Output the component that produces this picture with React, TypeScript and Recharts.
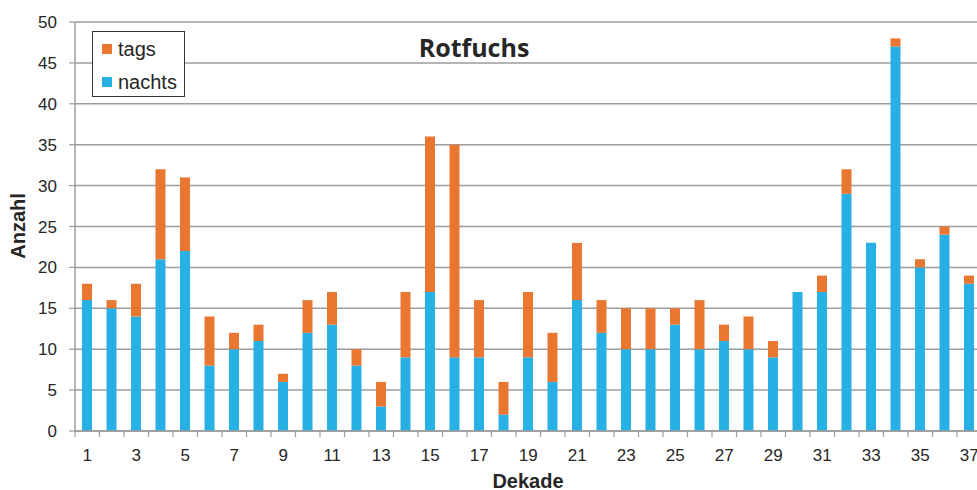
import React from "react";
import { BarChart, Bar, XAxis, YAxis, CartesianGrid } from "recharts";

// Dekaden 1–37 und Zählungen je Dekade
const dekaden: number[] = [
  1, 2, 3, 4, 5, 6, 7, 8, 9, 10, 11, 12, 13, 14, 15, 16, 17, 18, 19, 20,
  21, 22, 23, 24, 25, 26, 27, 28, 29, 30, 31, 32, 33, 34, 35, 36, 37,
];

const nachts: number[] = [
  16, 15, 14, 21, 22, 8, 10, 11, 6, 12, 13, 8, 3, 9, 17, 9, 9, 2, 9, 6,
  16, 12, 10, 10, 13, 10, 11, 10, 9, 17, 17, 29, 23, 47, 20, 24, 18,
];

const tags: number[] = [
  2, 1, 4, 11, 9, 6, 2, 2, 1, 4, 4, 2, 3, 8, 19, 26, 7, 4, 8, 6,
  7, 4, 5, 5, 2, 6, 2, 4, 2, 0, 2, 3, 0, 1, 1, 1, 1,
];

const yTicks: number[] = [0, 5, 10, 15, 20, 25, 30, 35, 40, 45, 50];

const data = dekaden.map((d, i) => ({
  dekade: d,
  nachts: nachts[i],
  tags: tags[i],
}));

const BLUE = "#26B0E4";
const ORANGE = "#E97631";
const GRID = "#9c9c9c";
const TEXT = "#262626";
const FONT = "'Liberation Sans', Arial, sans-serif";

const BAND = 24.5;

// Category tick: mark on the left boundary of each band, label on every other category
const DekadeTick = (props: any) => {
  const { x, payload, index } = props;
  const axisY = 431;
  const left = x - BAND / 2;
  return (
    <g>
      <line x1={left} y1={axisY} x2={left} y2={axisY + 6} stroke={GRID} strokeWidth={1.2} />
      {index % 2 === 0 && (
        <text
          x={x}
          y={axisY + 30}
          textAnchor="middle"
          fontSize={17}
          fontFamily={FONT}
          fill={TEXT}
        >
          {payload.value}
        </text>
      )}
    </g>
  );
};

export default function App() {
  return (
    <div
      style={{
        position: "absolute",
        left: 0,
        top: 0,
        width: 977,
        height: 490,
        overflow: "hidden",
        background: "#fff",
      }}
    >
      <div style={{ position: "relative", width: 1000, height: 490 }}>
        <BarChart
          width={1000}
          height={490}
          data={data}
          margin={{ top: 22, right: 18.5, bottom: 0, left: 0 }}
          barCategoryGap={0}
        >
          <CartesianGrid vertical={false} stroke={GRID} strokeWidth={1.5} />
          <XAxis
            dataKey="dekade"
            height={59}
            interval={0}
            tickLine={false}
            axisLine={{ stroke: GRID, strokeWidth: 1.5 }}
            tick={<DekadeTick />}
          />
          <YAxis
            width={75}
            domain={[0, 50]}
            ticks={yTicks}
            interval={0}
            tickSize={6}
            tickMargin={12}
            tickLine={{ stroke: GRID, strokeWidth: 1.2 }}
            axisLine={{ stroke: GRID, strokeWidth: 1.5 }}
            tick={{ fontSize: 17, fontFamily: FONT, fill: TEXT }}
          />
          <Bar dataKey="nachts" stackId="a" fill={BLUE} barSize={10} isAnimationActive={false} />
          <Bar dataKey="tags" stackId="a" fill={ORANGE} barSize={10} isAnimationActive={false} />
        </BarChart>

        {/* Title */}
        <div
          style={{
            position: "absolute",
            left: 474,
            top: 31,
            transform: "translateX(-50%)",
            fontFamily: "'Open Sans', sans-serif",
            fontWeight: 700,
            fontSize: 25,
            lineHeight: "32px",
            color: TEXT,
            whiteSpace: "nowrap",
          }}
        >
          Rotfuchs
        </div>

        {/* Y axis title */}
        <div
          style={{
            position: "absolute",
            left: 18,
            top: 226,
            transform: "translate(-50%, -50%) rotate(-90deg)",
            fontFamily: FONT,
            fontWeight: 700,
            fontSize: 20,
            color: TEXT,
            whiteSpace: "nowrap",
          }}
        >
          Anzahl
        </div>

        {/* X axis title */}
        <div
          style={{
            position: "absolute",
            left: 528,
            top: 481,
            transform: "translate(-50%, -50%)",
            fontFamily: FONT,
            fontWeight: 700,
            fontSize: 20,
            color: TEXT,
            whiteSpace: "nowrap",
          }}
        >
          Dekade
        </div>

        {/* Legend */}
        <div
          style={{
            position: "absolute",
            left: 92,
            top: 31,
            width: 93,
            height: 66,
            border: "1px solid #333",
            background: "#fff",
            boxSizing: "border-box",
            fontFamily: FONT,
            fontSize: 20,
            color: TEXT,
          }}
        >
          {[
            { name: "tags", color: ORANGE, top: 5 },
            { name: "nachts", color: BLUE, top: 38 },
          ].map((e) => (
            <div
              key={e.name}
              style={{ position: "absolute", left: 9, top: e.top, height: 24, display: "flex", alignItems: "center" }}
            >
              <span style={{ display: "inline-block", width: 10, height: 10, background: e.color, marginRight: 6 }} />
              <span style={{ lineHeight: "24px" }}>{e.name}</span>
            </div>
          ))}
        </div>
      </div>
    </div>
  );
}
